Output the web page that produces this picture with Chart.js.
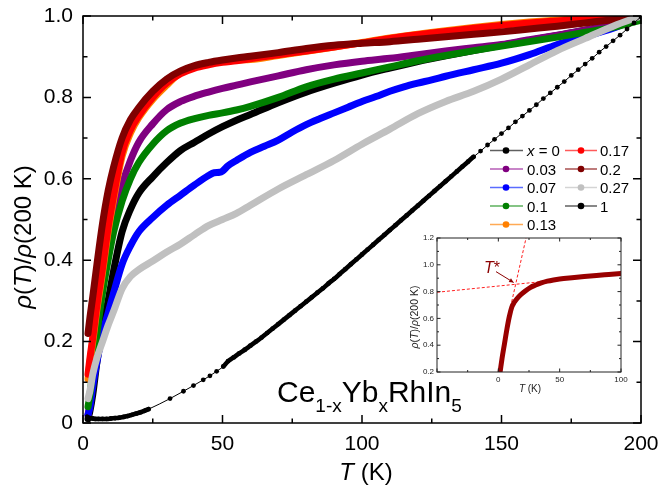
<!DOCTYPE html>
<html><head><meta charset="utf-8">
<script src="https://cdn.jsdelivr.net/npm/chart.js@4/dist/chart.umd.min.js"></script>
<style>
html,body{margin:0;padding:0;background:#fff;}
#wrap{position:relative;width:659px;height:489px;overflow:hidden;}
#main{position:absolute;left:0;top:0;}
#inset{position:absolute;left:395px;top:228px;}
</style></head><body>
<div id="wrap"><canvas id="main" width="659" height="489"></canvas><canvas id="inset" width="240" height="170"></canvas></div>
<script>
// ---------- DATA ----------
const tGrid = [1.8,2.5,3.5,5,7,9,11,14,17,20,25,30,35,40,45,50,55,60,70,80,90,100,110,120,130,140,150,160,170,180,190,200];
const rhoX0   = [0.01,0.03,0.07,0.15,0.23,0.30,0.375,0.47,0.525,0.565,0.605,0.64,0.67,0.69,0.71,0.728,0.744,0.758,0.787,0.813,0.835,0.855,0.872,0.888,0.902,0.915,0.928,0.94,0.952,0.965,0.98,1.0];
const rhoX003 = [0.02,0.05,0.12,0.23,0.35,0.43,0.50,0.585,0.645,0.69,0.735,0.77,0.79,0.803,0.813,0.822,0.83,0.838,0.853,0.868,0.88,0.889,0.896,0.905,0.914,0.922,0.93,0.942,0.953,0.965,0.98,1.0];
const tX007   = [1.8,2.5,3.5,5,7,9,11,14,17,20,25,30,35,40,45,47,49,50,52,55,60,65,70,75,80,85,90,95,100,105,110,115,120,125,130,140,150,160,170,180,190,200];
const rhoX007 = [0.02,0.04,0.09,0.15,0.22,0.27,0.32,0.39,0.435,0.47,0.505,0.535,0.56,0.585,0.608,0.615,0.616,0.619,0.632,0.645,0.665,0.68,0.695,0.715,0.733,0.748,0.762,0.776,0.79,0.802,0.815,0.826,0.835,0.843,0.852,0.868,0.884,0.905,0.93,0.95,0.97,1.0];
const rhoX01  = [0.04,0.07,0.13,0.22,0.32,0.40,0.47,0.545,0.60,0.64,0.685,0.718,0.737,0.748,0.756,0.762,0.769,0.778,0.80,0.826,0.845,0.86,0.875,0.89,0.903,0.915,0.926,0.937,0.948,0.96,0.972,0.99];
const rhoX013 = [0.108,0.15,0.20,0.28,0.37,0.47,0.55,0.655,0.712,0.75,0.795,0.83,0.861,0.875,0.883,0.888,0.892,0.893,0.903,0.913,0.924,0.935,0.946,0.955,0.964,0.972,0.979,0.985,0.99,0.995,0.998,1.0];
const rhoX017 = [0.12,0.16,0.21,0.29,0.38,0.48,0.56,0.665,0.72,0.755,0.80,0.835,0.858,0.872,0.880,0.886,0.890,0.895,0.905,0.914,0.924,0.934,0.945,0.954,0.962,0.970,0.977,0.983,0.988,0.993,0.997,1.0];
const rhoX02  = [0.22,0.26,0.31,0.39,0.49,0.57,0.63,0.70,0.745,0.775,0.815,0.845,0.865,0.878,0.886,0.892,0.897,0.901,0.91,0.92,0.928,0.933,0.937,0.943,0.949,0.955,0.961,0.968,0.975,0.983,0.991,1.0];
const rhoX027 = [0.06,0.08,0.12,0.16,0.20,0.24,0.275,0.33,0.36,0.377,0.398,0.42,0.44,0.463,0.485,0.50,0.515,0.535,0.575,0.61,0.645,0.685,0.722,0.76,0.79,0.815,0.845,0.88,0.915,0.945,0.975,1.0];
const tX1   = [1.5,2.5,3.5,4.5,5.5,7,8.5,10,11.5,13,14.5,16,17.5,19,20.5,22,23.5,31.2,36,39.6,43.1,45.5,47.9,50.3,
  52,54,56,58,60,62,64,66,68,70,72,74,76,78,80,82,84,86,88,90,92,94,96,98,100,102,104,106,108,110,112,114,116,118,120,122,124,126,128,130,132,134,136,138,140,
  142.5,145,147.5,150,152.5,155,157.5,160,162.5,165,167.5,170,172.5,175,177.5,180,182.5,185,187.5,190,192.5,195,197.5,200];
const rhoX1 = [0.015,0.012,0.011,0.01,0.01,0.01,0.01,0.011,0.012,0.013,0.015,0.017,0.02,0.023,0.026,0.03,0.034,0.06,0.078,0.092,0.106,0.116,0.127,0.139,
  0.152,0.161,0.171,0.180,0.190,0.200,0.210,0.221,0.232,0.243,0.254,0.265,0.276,0.287,0.298,0.309,0.320,0.331,0.343,0.354,0.366,0.378,0.390,0.402,0.414,0.426,0.438,0.450,0.462,0.474,0.486,0.498,0.510,0.522,0.534,0.546,0.558,0.570,0.582,0.594,0.606,0.618,0.630,0.642,0.654,
  0.668,0.683,0.697,0.711,0.725,0.740,0.754,0.768,0.782,0.797,0.811,0.825,0.839,0.854,0.868,0.882,0.896,0.911,0.925,0.939,0.953,0.968,0.983,0.998];
const seriesLabels = ['x = 0','0.03','0.07','0.1','0.13','0.17','0.2','0.27','1'];
const xTickValues = [0,50,100,150,200];
const yTickValues = [0,0.2,0.4,0.6,0.8,1.0];

// inset (x = 0.2 sample)
const insetT   = [1.5,3,5,7,9,11,13,15,18,22,26,30,35,40,45,50,60,70,80,90,100];
const insetRho = [0.205,0.30,0.41,0.52,0.615,0.685,0.72,0.745,0.775,0.805,0.83,0.847,0.865,0.878,0.887,0.894,0.904,0.913,0.921,0.928,0.935];
const guideLowT = [-50,36], guideLowRho = [0.795,0.875];
const guideHighT = [10,22.6], guideHighRho = [0.687,1.2];

// ---------- STYLE ----------
const FF = '"Liberation Sans", Arial, sans-serif';
const colors = ['#000000','#800080','#0000ff','#008000','#ff8000','#ff0000','#800000','#c0c0c0','#000000'];
const legendLine = ['#606060','#b65cb6','#5a6cff','#5cb05c','#ffaa55','#ff5a5a','#a85050','#d4d4d4','#606060'];

const tSets = [tGrid,tGrid,tX007,tGrid,tGrid,tGrid,tGrid,tGrid,tX1];
const ySets = [rhoX0,rhoX003,rhoX007,rhoX01,rhoX013,rhoX017,rhoX02,rhoX027,rhoX1];

const datasets = ySets.map((ys,i)=>{
  const pts = ys.map((v,k)=>({x:tSets[i][k], y:v}));
  const isOne = i===8;
  const ds = {
    label: seriesLabels[i],
    data: pts,
    borderColor: colors[i],
    backgroundColor: colors[i],
    borderWidth: isOne?1:7,
    pointRadius: isOne?2.4:0,
    pointBorderWidth: 0,
    pointBackgroundColor: colors[i],
    cubicInterpolationMode: 'monotone',
    borderCapStyle: 'round',
    borderJoinStyle: 'round',
    fill: false,
    order: 9-i
  };
  if(isOne){
    // densely sampled stretches of the measured curve look like a solid thick trace
    ds.segment = {borderWidth: c => {
      const a=c.p0.parsed.x, b=c.p1.parsed.x;
      return ((b<=24) || (a>=50 && b<=141)) ? 4.6 : 1;
    }};
  }
  return ds;
});

function drawRuns(ctx, runs, x, y, align){
  let total=0;
  runs.forEach(r=>{ctx.font=r.font; r.w=ctx.measureText(r.t).width; total+=r.w;});
  let cx = align==='center' ? x-total/2 : x;
  ctx.textAlign='left'; ctx.textBaseline='alphabetic';
  runs.forEach(r=>{ctx.font=r.font; ctx.fillText(r.t, cx, y+(r.dy||0)); cx+=r.w;});
}

const framePlugin = {
  id:'frame',
  afterDraw(chart, args, o){
    const {ctx, chartArea:a, scales:{x,y}} = chart;
    ctx.save();
    ctx.strokeStyle=o.color||'#000'; ctx.lineWidth=o.lw;
    ctx.beginPath();
    const nx = Math.round((x.max-x.min)/o.xMinor);
    for(let k=0;k<=nx;k++){
      const v=x.min+k*o.xMinor; const px=x.getPixelForValue(v);
      const maj=Math.abs(v/o.xMajor-Math.round(v/o.xMajor))<1e-6;
      const L=maj?o.major:o.minor;
      ctx.moveTo(px,a.bottom); ctx.lineTo(px,a.bottom-L);
      ctx.moveTo(px,a.top); ctx.lineTo(px,a.top+L);
    }
    const ny = Math.round((y.max-y.min)/o.yMinor);
    for(let k=0;k<=ny;k++){
      const v=y.min+k*o.yMinor; const py=y.getPixelForValue(v);
      const maj=Math.abs((v-y.min)/o.yMajor-Math.round((v-y.min)/o.yMajor))<1e-6;
      const L=maj?o.major:o.minor;
      ctx.moveTo(a.left,py); ctx.lineTo(a.left+L,py);
      ctx.moveTo(a.right,py); ctx.lineTo(a.right-L,py);
    }
    ctx.stroke();
    ctx.strokeRect(a.left,a.top,a.right-a.left,a.bottom-a.top);
    ctx.restore();
  }
};

const textPlugin = {
  id:'texts',
  afterDraw(chart){
    const {ctx} = chart;
    ctx.save(); ctx.fillStyle='#000';
    drawRuns(ctx,[{t:'T',font:'italic 24px '+FF},{t:' (K)',font:'24px '+FF}], 366, 480, 'center');
    ctx.save(); ctx.translate(31,237); ctx.rotate(-Math.PI/2);
    drawRuns(ctx,[{t:'\u03C1',font:'italic 24px '+FF},{t:'(',font:'24px '+FF},{t:'T',font:'italic 24px '+FF},{t:')/',font:'24px '+FF},{t:'\u03C1',font:'italic 24px '+FF},{t:'(200 K)',font:'24px '+FF}],0,0,'center');
    ctx.restore();
    const M='30px '+FF, S='19px '+FF;
    drawRuns(ctx,[{t:'Ce',font:M},{t:'1-x',font:S,dy:10},{t:'Yb',font:M},{t:'x',font:S,dy:10},{t:'RhIn',font:M},{t:'5',font:S,dy:10}],277,402,'left');
    ctx.restore();
  }
};

const legendPlugin = {
  id:'customLegend',
  afterDraw(chart){
    const ctx=chart.ctx;
    const cols=[{x0:490,x1:523,m:506,tx:527},{x0:565,x1:597,m:581,tx:600}];
    const rows=[150.5,169,187.5,206,224.5];
    ctx.save();
    chart.data.datasets.forEach((ds,i)=>{
      const c = i<5?cols[0]:cols[1];
      const yy = i<5?rows[i]:rows[i-5];
      ctx.strokeStyle=legendLine[i]; ctx.lineWidth=1.5;
      ctx.beginPath(); ctx.moveTo(c.x0,yy); ctx.lineTo(c.x1,yy); ctx.stroke();
      ctx.fillStyle=colors[i];
      ctx.beginPath(); ctx.arc(c.m,yy,3.3,0,Math.PI*2); ctx.fill();
      ctx.fillStyle='#000';
      const F='15px '+FF;
      if(ds.label==='x = 0'){
        drawRuns(ctx,[{t:'x',font:'italic '+F},{t:' = 0',font:F}],c.tx,yy+5.5,'left');
      } else {
        drawRuns(ctx,[{t:ds.label,font:F}],c.tx,yy+5.5,'left');
      }
    });
    ctx.restore();
  }
};

function fixX(h){ return s=>{ s.height=h; s.paddingLeft=0; s.paddingRight=0; }; }
function fixY(w){ return s=>{ s.width=w; s.paddingTop=0; s.paddingBottom=0; }; }

new Chart(document.getElementById('main'),{
  type:'line',
  data:{datasets},
  options:{
    responsive:false, animation:false,
    layout:{padding:{top:16,right:18,left:0,bottom:0}},
    scales:{
      x:{type:'linear',min:0,max:200,
        afterBuildTicks:s=>{s.ticks=xTickValues.map(v=>({value:v}));},
        ticks:{padding:9,color:'#000',font:{family:FF,size:21},maxRotation:0,callback:v=>String(v)},
        grid:{display:false,drawTicks:false},border:{display:false},
        afterFit:fixX(66)},
      y:{type:'linear',min:0,max:1,
        afterBuildTicks:s=>{s.ticks=yTickValues.map(v=>({value:v}));},
        ticks:{padding:10,color:'#000',font:{family:FF,size:21},callback:v=>v===0?'0':Number(v).toFixed(1)},
        grid:{display:false,drawTicks:false},border:{display:false},
        afterFit:fixY(83)}
    },
    plugins:{legend:{display:false},tooltip:{enabled:false},
      frame:{lw:1.5,xMajor:50,xMinor:25,yMajor:0.2,yMinor:0.1,major:8,minor:4.5}}
  },
  plugins:[framePlugin,textPlugin,legendPlugin]
});

// ---------- INSET ----------
const insetTexts = {
  id:'insetTexts',
  afterDraw(chart){
    const {ctx, scales:{x,y}} = chart;
    ctx.save();
    ctx.fillStyle='#222';
    drawRuns(ctx,[{t:'T',font:'italic 10px '+FF},{t:' (K)',font:'10px '+FF}],135,164,'center');
    ctx.save(); ctx.translate(23,89); ctx.rotate(-Math.PI/2);
    const F='10.5px '+FF, I='italic 10.5px '+FF;
    drawRuns(ctx,[{t:'\u03C1',font:I},{t:'(',font:F},{t:'T',font:I},{t:')/',font:F},{t:'\u03C1',font:I},{t:'(200 K)',font:F}],0,0,'center');
    ctx.restore();
    ctx.fillStyle='#8b0000'; ctx.strokeStyle='#8b0000';
    drawRuns(ctx,[{t:'T',font:'italic 16px '+FF},{t:'*',font:'16px '+FF}], x.getPixelForValue(-11.7), y.getPixelForValue(0.94),'left');
    const x1=x.getPixelForValue(-1.9), y1=y.getPixelForValue(0.949);
    const x2=x.getPixelForValue(12.5), y2=y.getPixelForValue(0.868);
    ctx.lineWidth=1; ctx.beginPath(); ctx.moveTo(x1,y1); ctx.lineTo(x2,y2); ctx.stroke();
    const ang=Math.atan2(y2-y1,x2-x1), h=5;
    ctx.beginPath(); ctx.moveTo(x2,y2);
    ctx.lineTo(x2-h*Math.cos(ang-0.45),y2-h*Math.sin(ang-0.45));
    ctx.lineTo(x2-h*Math.cos(ang+0.45),y2-h*Math.sin(ang+0.45));
    ctx.closePath(); ctx.fill();
    ctx.restore();
  }
};
const insetBg = {
  id:'insetBg',
  beforeDraw(chart){
    const {ctx, chartArea:a}=chart; ctx.save(); ctx.fillStyle='#fff';
    ctx.fillRect(a.left,a.top,a.right-a.left,a.bottom-a.top); ctx.restore();
  }
};

new Chart(document.getElementById('inset'),{
  type:'line',
  data:{datasets:[
    {data:guideLowT.map((v,k)=>({x:v,y:guideLowRho[k]})),borderColor:'#ff2020',borderWidth:1,borderDash:[3,2],pointRadius:0,fill:false,order:2},
    {data:guideHighT.map((v,k)=>({x:v,y:guideHighRho[k]})),borderColor:'#ff2020',borderWidth:1,borderDash:[3,2],pointRadius:0,fill:false,order:2},
    {data:insetT.map((v,k)=>({x:v,y:insetRho[k]})),borderColor:'#990000',borderWidth:5,pointRadius:0,cubicInterpolationMode:'monotone',borderCapStyle:'round',fill:false,order:1}
  ]},
  options:{
    responsive:false, animation:false,
    layout:{padding:{top:10,right:14,left:0,bottom:0}},
    scales:{
      x:{type:'linear',min:-50,max:100,
        afterBuildTicks:s=>{s.ticks=[-50,0,50,100].map(v=>({value:v}));},
        ticks:{padding:3,color:'#222',font:{family:FF,size:8},maxRotation:0,callback:v=>v===-50?'':String(v)},
        grid:{display:false,drawTicks:false},border:{display:false},afterFit:fixX(26)},
      y:{type:'linear',min:0.2,max:1.2,
        afterBuildTicks:s=>{s.ticks=[0.2,0.4,0.6,0.8,1.0,1.2].map(v=>({value:v}));},
        ticks:{padding:3,color:'#222',font:{family:FF,size:8},callback:v=>Number(v).toFixed(1)},
        grid:{display:false,drawTicks:false},border:{display:false},afterFit:fixY(42)}
    },
    plugins:{legend:{display:false},tooltip:{enabled:false},
      frame:{lw:1,color:'#222',xMajor:50,xMinor:25,yMajor:0.2,yMinor:0.1,major:3.5,minor:2}}
  },
  plugins:[insetBg,framePlugin,insetTexts]
});
</script>
</body></html>
